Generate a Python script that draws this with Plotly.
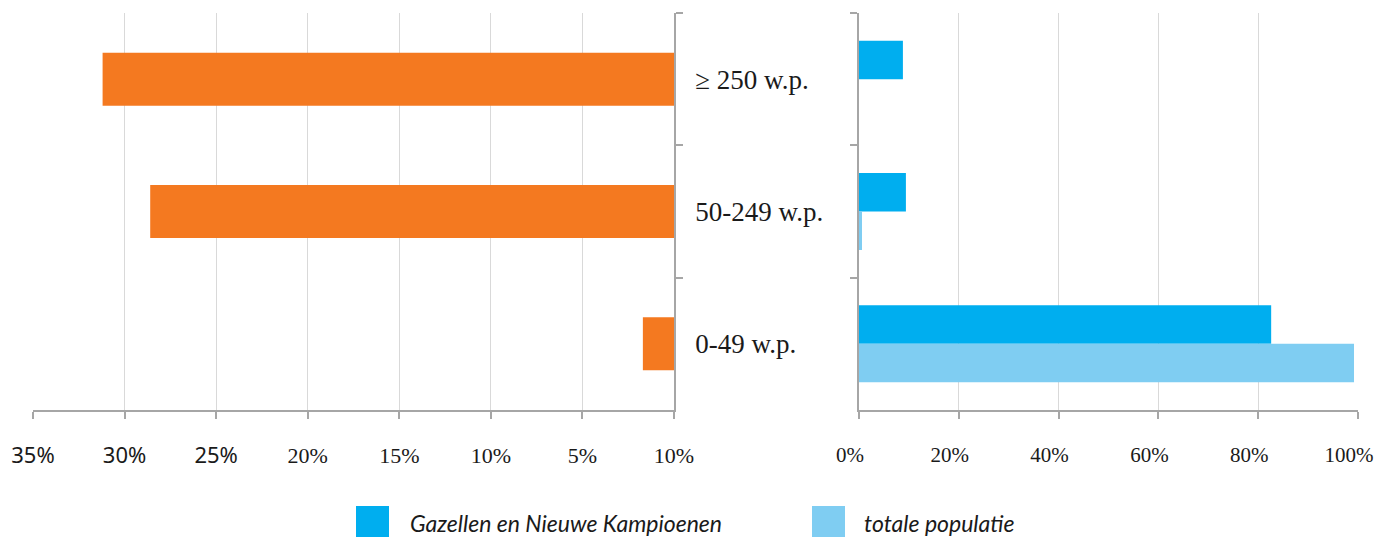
import plotly.graph_objects as go

categories = ["≥ 250 w.p.", "50-249 w.p.", "0-49 w.p."]
left_values = [31.2, 28.6, 1.7]
gazellen = [8.8, 9.4, 82.6]
totale = [0.0, 0.6, 99.2]

left_tickvals = [35, 30, 25, 20, 15, 10, 5, 0]
left_ticklabels = ["35%", "30%", "25%", "20%", "15%", "10%", "5%", "10%"]
right_tickvals = [0, 20, 40, 60, 80, 100]
right_ticktext = ["0%", "20%", "40%", "60%", "80%", "100%"]

legend_names = ["Gazellen en Nieuwe Kampioenen", "totale populatie"]

ORANGE = "#F47920"
BLUE = "#00AEEF"
LIGHT = "#7FCDF2"
GRID = "#D9D9D9"
AXIS = "#A6A6A6"
OFF = 8  # page body margin
W, H = 1382 - OFF, 537 - OFF


def px(x):
    return (x - OFF) / W


def py(y):
    return (H - (y - OFF)) / H


# first three left labels appear in a sans face in the original
left_ticktext = [
    ('<span style="font-family:Noto Sans">' + t + "</span>") if i < 3 else t
    for i, t in enumerate(left_ticklabels)
]

fig = go.Figure()
fig.add_trace(go.Bar(y=categories, x=left_values, orientation="h", marker_color=ORANGE,
                     width=0.4, xaxis="x", yaxis="y", showlegend=False))
fig.add_trace(go.Bar(y=categories, x=gazellen, orientation="h", marker_color=BLUE,
                     name=legend_names[0], xaxis="x2", yaxis="y2", showlegend=False))
fig.add_trace(go.Bar(y=categories, x=totale, orientation="h", marker_color=LIGHT,
                     name=legend_names[1], xaxis="x2", yaxis="y2", showlegend=False))

ydom = [py(410), py(13)]
tickfont = dict(family="Liberation Serif", size=22, color="#1a1a1a")

fig.update_layout(
    template="none",
    width=W, height=H, margin=dict(l=0, r=0, t=0, b=0, pad=0, autoexpand=False),
    paper_bgcolor="white", plot_bgcolor="white",
    barmode="group", bargap=0.418, bargroupgap=0,
    xaxis=dict(domain=[px(33), px(674)], range=[35, 0], tickvals=left_tickvals,
               ticktext=left_ticktext, showgrid=True, gridcolor=GRID, gridwidth=1,
               showline=True, linecolor=AXIS, linewidth=1.5, ticks="outside",
               ticklen=7, tickcolor=AXIS, tickwidth=1.5, tickfont=tickfont,
               ticklabelstandoff=18, zeroline=False, anchor="y", automargin=False,
               ticklabeloverflow="allow"),
    yaxis=dict(domain=ydom, range=[2.5, -0.5], side="right", anchor="x",
               showline=True, linecolor=AXIS, linewidth=1.5, ticks="outside",
               tickson="boundaries", ticklen=7, tickcolor=AXIS, tickwidth=1.5,
               tickfont=dict(family="Liberation Serif", size=27, color="#1a1a1a"),
               ticklabelstandoff=14, showgrid=False, categoryorder="array",
               categoryarray=categories, automargin=False, zeroline=False),
    xaxis2=dict(domain=[px(859), px(1358)], range=[0, 100], tickvals=right_tickvals,
                ticktext=right_ticktext, showgrid=True, gridcolor=GRID, gridwidth=1,
                showline=True, linecolor=AXIS, linewidth=1.5, ticks="outside",
                ticklen=7, tickcolor=AXIS, tickwidth=1.5,
                tickfont=dict(family="Liberation Serif", size=21, color="#1a1a1a"),
                ticklabelstandoff=18, ticklabelshift=-9, ticklabeloverflow="allow",
                zeroline=False, anchor="y2", automargin=False),
    yaxis2=dict(domain=ydom, range=[2.5, -0.5], side="left", anchor="x2",
                showline=True, linecolor=AXIS, linewidth=1.5, ticks="outside",
                tickson="boundaries", ticklen=7, tickcolor=AXIS, tickwidth=1.5,
                showticklabels=False, showgrid=False, categoryorder="array",
                categoryarray=categories, automargin=False, zeroline=False),
    showlegend=False,
)

# custom legend (large squares)
legend_items = [(356, 408, BLUE, legend_names[0]), (812, 862, LIGHT, legend_names[1])]
for sx, tx, col, name in legend_items:
    fig.add_shape(type="rect", xref="paper", yref="paper",
                  x0=px(sx), x1=px(sx + 33), y0=0, y1=py(506),
                  fillcolor=col, line_width=0)
    fig.add_annotation(xref="paper", yref="paper", x=px(tx), y=py(523),
                       text="<i>" + name + "</i>", showarrow=False, xanchor="left",
                       yanchor="middle",
                       font=dict(family="Lato", size=23, color="#1a1a1a"))

fig.write_html("out.html")
